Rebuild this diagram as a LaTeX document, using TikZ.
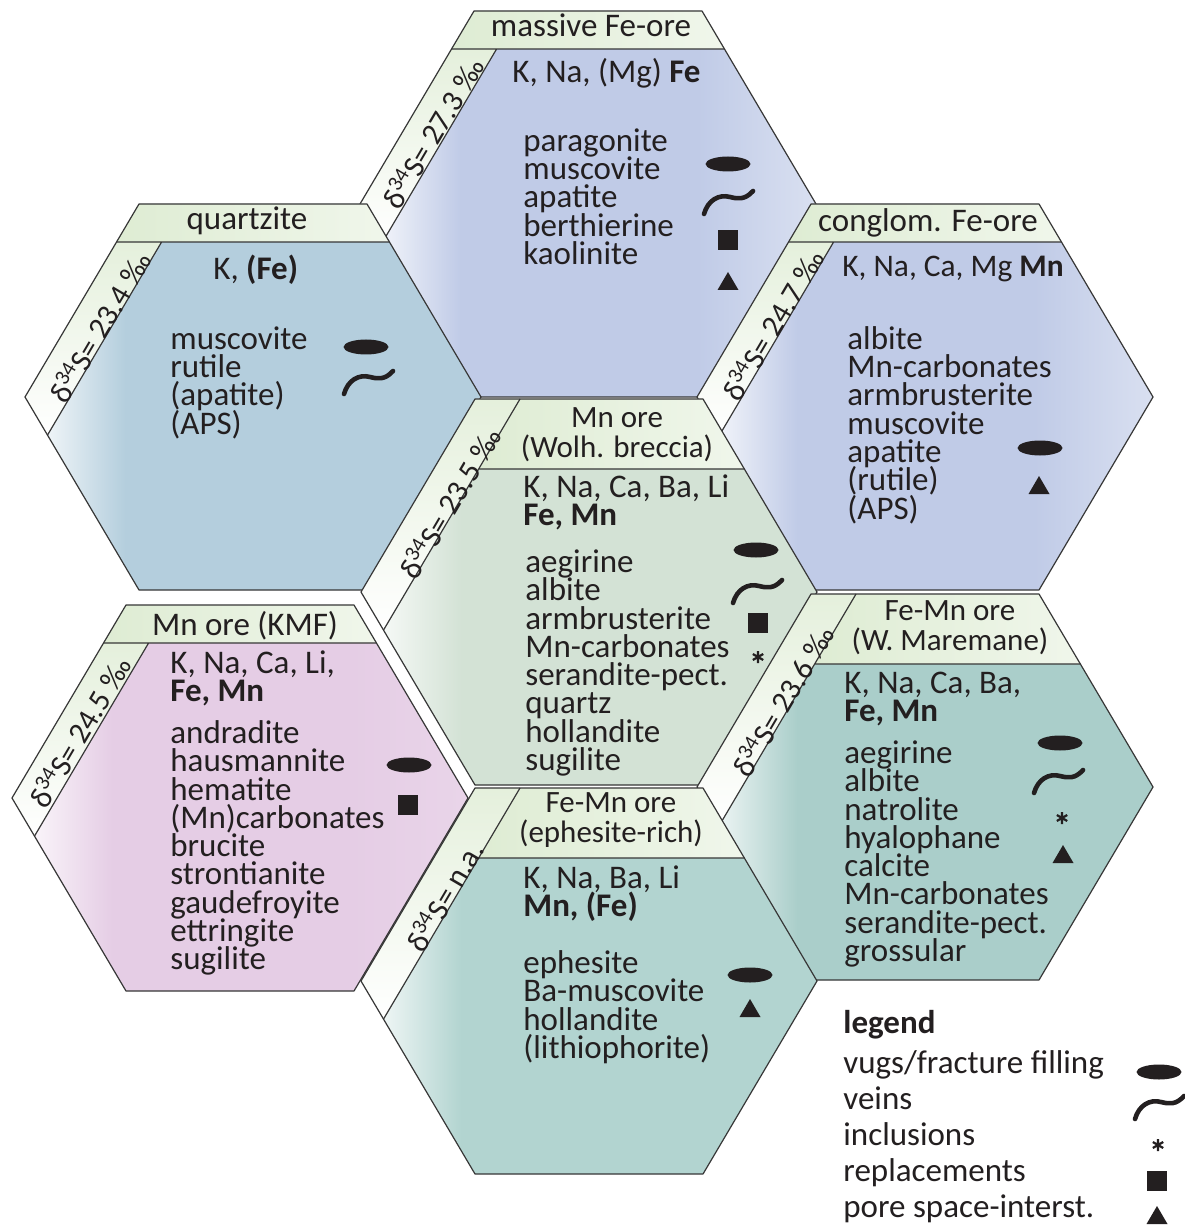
\documentclass[tikz,border=0pt]{standalone}
\usepackage{fontspec}
\setmainfont{Carlito}
\usetikzlibrary{calc}

\definecolor{ink}{RGB}{35,31,32}
\definecolor{edgegrey}{RGB}{55,55,55}
\definecolor{titlegreen}{RGB}{222,236,211}
\definecolor{feblue}{RGB}{192,203,231}
\definecolor{qtzblue}{RGB}{180,206,221}
\definecolor{wolgreen}{RGB}{211,226,213}
\definecolor{kmfpink}{RGB}{229,205,229}
\definecolor{wmateal}{RGB}{170,206,202}
\definecolor{ephteal}{RGB}{178,212,208}
\colorlet{hexcol}{white}
\colorlet{hexrim}{white}

\pgfdeclarehorizontalshading[hexcol,hexrim]{hexshade}{100bp}{color(0bp)=(white); color(25bp)=(white); color(36bp)=(hexcol); color(62bp)=(hexcol); color(75bp)=(hexrim); color(100bp)=(hexrim)}

\newcommand{\cellfont}{\fontsize{16.5pt}{14.15pt}\selectfont\lineskiplimit=-20pt\relax}
\newcommand{\twofont}{\fontsize{15.5pt}{15pt}\selectfont\lineskiplimit=-20pt\relax}
\newcommand{\legfont}{\fontsize{16.5pt}{18pt}\selectfont\lineskiplimit=-20pt\relax}
\newcommand{\dfont}{\fontsize{15.4pt}{15pt}\selectfont}
\newcommand{\cellstrut}{\rule{0pt}{13pt}}

\tikzset{
  edge/.style={draw=edgegrey, line width=0.6pt, line join=round},
  titlestrip/.style={left color=titlegreen, right color=titlegreen!45!white},
  dstrip/.style={top color=titlegreen!80!white, bottom color=white},
  celltext/.style={inner sep=0pt, text=ink, font=\cellfont},
  minlist/.style={celltext, anchor=north west, align=left},
  elemline/.style={celltext, anchor=base west},
  celltitle/.style={celltext, anchor=base},
  twotitle/.style={inner sep=0pt, text=ink, font=\twofont, anchor=north, align=center},
  dlabel/.style={inner sep=0pt, text=ink, font=\dfont, rotate=59.5},
  vug/.pic={\fill[ink] (0,0) ellipse [x radius=22.5, y radius=7.5];},
  vein/.pic={\draw[ink, line width=2.3pt, line cap=round] (-24,11) .. controls (-20,-3) and (-9,-9) .. (2,-6) .. controls (10,-4) and (17,-3) .. (25,-12);},
  incl/.pic={\draw[ink, line width=1.1pt] (0,-6) -- (0,6) (-5.2,-3) -- (5.2,3) (-5.2,3) -- (5.2,-3);},
  repl/.pic={\fill[ink] (-10,-10) rectangle (10,10);},
  pore/.pic={\fill[ink] (-10.5,8) -- (10.5,8) -- (0,-10) -- cycle;}
}

% cell with the title strip over the whole top
\newcommand{\cellflat}[4]{%
  \colorlet{hexcol}{#3}\colorlet{hexrim}{#4}%
  \begin{scope}[shift={(#1,#2)}]
    \path[shade, shading=hexshade] (-114,-193) -- (114,-193) -- (228,0) -- (114,193) -- (-114,193) -- (-228,0) -- cycle;
    \path[titlestrip] (-114,-193) -- (114,-193) -- (136.4,-155) -- (-136.4,-155) -- cycle;
    \path[dstrip] (-228,0) -- (-136.4,-155) -- (-91.4,-155) -- (-205.5,38.1) -- cycle;
    \draw[edge] (-136.4,-155) -- (136.4,-155) (-91.4,-155) -- (-205.5,38.1);
    \draw[edge] (-114,-193) -- (114,-193) -- (228,0) -- (114,193) -- (-114,193) -- (-228,0) -- cycle;
  \end{scope}}

% cell with the delta strip along the whole upper left side
\newcommand{\celltall}[4]{%
  \colorlet{hexcol}{#3}\colorlet{hexrim}{#4}%
  \begin{scope}[shift={(#1,#2)}]
    \path[shade, shading=hexshade] (-114,-193) -- (114,-193) -- (228,0) -- (114,193) -- (-114,193) -- (-228,0) -- cycle;
    \path[titlestrip] (-69,-193) -- (114,-193) -- (155.3,-123) -- (-110.3,-123) -- cycle;
    \path[dstrip] (-228,0) -- (-114,-193) -- (-69,-193) -- (-205.5,38.1) -- cycle;
    \draw[edge] (-110.3,-123) -- (155.3,-123) (-69,-193) -- (-205.5,38.1);
    \draw[edge] (-114,-193) -- (114,-193) -- (228,0) -- (114,193) -- (-114,193) -- (-228,0) -- cycle;
  \end{scope}}

\begin{document}
\begin{tikzpicture}[x=0.5pt, y=-0.5pt]
\useasboundingbox (0,0) rectangle (1184,1229);
\fill[white] (0,0) rectangle (1184,1229);

% honeycomb
\cellflat{588}{204}{feblue}{feblue!60!white}
\cellflat{253}{397}{qtzblue}{qtzblue}
\cellflat{925}{397}{feblue}{feblue!60!white}
\celltall{589}{592}{wolgreen}{wolgreen}
\cellflat{240}{798}{kmfpink}{kmfpink!85!white}
\celltall{925}{787}{wmateal}{wmateal}
\celltall{589}{981}{ephteal}{ephteal}

% massive Fe-ore
\node[celltitle] (mfe-t) at (591,37) {massive Fe-ore};
\node[elemline] (mfe-e) at (512,83) {K, Na, (Mg) \textbf{Fe}};
\node[minlist] (mfe-m) at (523,125) {\cellstrut paragonite\\muscovite\\apatite\\berthierine\\kaolinite};
\node[dlabel] (mfe-d) at (432,133) {δ\textsuperscript{34}S= 27.3 ‰};
\pic at (728,164) {vug};
\pic at (728,203) {vein};
\pic at (728,240) {repl};
\pic at (728,282) {pore};

% quartzite
\node[celltitle] (qtz-t) at (247,230) {quartzite};
\node[elemline] (qtz-e) at (213,280) {K, \textbf{(Fe)}};
\node[minlist] (qtz-m) at (170,323) {\cellstrut muscovite\\rutile\\(apatite)\\(APS)};
\node[dlabel] (qtz-d) at (99,327) {δ\textsuperscript{34}S= 23.4 ‰};
\pic at (366,347) {vug};
\pic at (368,383) {vein};

% conglomeratic Fe-ore
\node[celltitle] (cfe-t) at (928,232) {conglom. Fe-ore};
\node[elemline, font=\fontsize{15.7pt}{14pt}\selectfont] (cfe-e) at (842,277) {K, Na, Ca, Mg \textbf{Mn}};
\node[minlist] (cfe-m) at (847,323) {\cellstrut albite\\Mn-carbonates\\armbrusterite\\muscovite\\apatite\\(rutile)\\(APS)};
\node[dlabel] (cfe-d) at (772,325) {δ\textsuperscript{34}S= 24.7 ‰};
\pic at (1040,448) {vug};
\pic at (1039,486) {pore};

% Wolhaarkop breccia
\node[twotitle] (wol-t) at (617,401) {\cellstrut Mn ore\\(Wolh. breccia)};
\node[minlist] (wol-e) at (523,471) {\cellstrut K, Na, Ca, Ba, Li\\\textbf{Fe, Mn}};
\node[minlist] (wol-m) at (525,546) {\cellstrut aegirine\\albite\\armbrusterite\\Mn-carbonates\\serandite-pect.\\quartz\\hollandite\\sugilite};
\node[dlabel] (wol-d) at (449,503) {δ\textsuperscript{34}S= 23.5 ‰};
\pic at (756,550) {vug};
\pic at (757,592) {vein};
\pic at (758,623) {repl};
\pic at (758,657) {incl};

% KMF
\node[celltitle] (kmf-t) at (245,635) {Mn ore (KMF)};
\node[minlist] (kmf-e) at (170,647) {\cellstrut K, Na, Ca, Li,\\\textbf{Fe, Mn}};
\node[minlist] (kmf-m) at (170,717) {\cellstrut andradite\\hausmannite\\hematite\\(Mn)carbonates\\brucite\\strontianite\\gaudefroyite\\ettringite\\sugilite};
\node[dlabel] (kmf-d) at (79,732) {δ\textsuperscript{34}S= 24.5 ‰};
\pic at (409,765) {vug};
\pic at (408,805) {repl};

% W. Maremane
\node[twotitle] (wma-t) at (950,594) {\cellstrut Fe-Mn ore\\(W. Maremane)};
\node[minlist] (wma-e) at (844,667) {\cellstrut K, Na, Ca, Ba,\\\textbf{Fe, Mn}};
\node[minlist] (wma-m) at (844,737) {\cellstrut aegirine\\albite\\natrolite\\hyalophane\\calcite\\Mn-carbonates\\serandite-pect.\\grossular};
\node[dlabel] (wma-d) at (782,701) {δ\textsuperscript{34}S= 23.6 ‰};
\pic at (1060,743) {vug};
\pic at (1058,782) {vein};
\pic at (1062,818) {incl};
\pic at (1063,855) {pore};

% ephesite-rich
\node[twotitle] (eph-t) at (611,786) {\cellstrut Fe-Mn ore\\(ephesite-rich)};
\node[minlist] (eph-e) at (523,862) {\cellstrut K, Na, Ba, Li\\\textbf{Mn, (Fe)}};
\node[minlist] (eph-m) at (523,947) {\cellstrut ephesite\\Ba-muscovite\\hollandite\\(lithiophorite)};
\node[dlabel] (eph-d) at (444,896) {δ\textsuperscript{34}S= n.a.};
\pic at (750,975) {vug};
\pic at (750,1009) {pore};

% legend
\node[elemline] (leg-t) at (843,1033) {\textbf{legend}};
\node[minlist, font=\legfont] (leg-m) at (843,1047) {\cellstrut vugs/fracture filling\\veins\\inclusions\\replacements\\pore space-interst.};
\pic at (1159,1072) {vug};
\pic at (1159,1108) {vein};
\pic at (1158,1145) {incl};
\pic at (1157,1181) {repl};
\pic at (1157,1216) {pore};
\end{tikzpicture}
\end{document}
